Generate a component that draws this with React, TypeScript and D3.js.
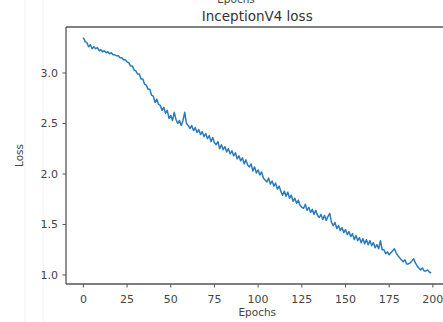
import React from "react";
import * as d3 from "d3";

const epochs: number[] = Array.from({ length: 200 }, (_, i) => i);
const loss: number[] = [
  3.35, 3.31, 3.30, 3.26, 3.28, 3.24, 3.26, 3.24, 3.25, 3.22,
  3.23, 3.21, 3.22, 3.20, 3.21, 3.19, 3.20, 3.18, 3.18, 3.17,
  3.17, 3.15, 3.15, 3.13, 3.13, 3.11, 3.10, 3.07, 3.07, 3.03,
  3.02, 2.99, 2.99, 2.94, 2.94, 2.89, 2.88, 2.84, 2.84, 2.78,
  2.77, 2.71, 2.74, 2.69, 2.68, 2.63, 2.66, 2.60, 2.63, 2.55,
  2.58, 2.53, 2.61, 2.54, 2.50, 2.53, 2.48, 2.53, 2.61, 2.50,
  2.48, 2.45, 2.48, 2.43, 2.46, 2.41, 2.44, 2.39, 2.42, 2.37,
  2.40, 2.35, 2.38, 2.32, 2.36, 2.31, 2.29, 2.32, 2.25, 2.29,
  2.24, 2.27, 2.22, 2.25, 2.20, 2.23, 2.18, 2.21, 2.15, 2.18,
  2.13, 2.16, 2.10, 2.14, 2.09, 2.07, 2.10, 2.03, 2.07, 2.01,
  2.04, 1.99, 2.02, 1.96, 1.94, 1.92, 1.96, 1.90, 1.93, 1.88,
  1.91, 1.85, 1.88, 1.83, 1.79, 1.83, 1.78, 1.82, 1.76, 1.79,
  1.73, 1.76, 1.71, 1.74, 1.69, 1.67, 1.66, 1.70, 1.64, 1.67,
  1.62, 1.65, 1.60, 1.64, 1.59, 1.57, 1.60, 1.55, 1.59, 1.54,
  1.58, 1.61, 1.52, 1.49, 1.52, 1.46, 1.49, 1.44, 1.47, 1.42,
  1.45, 1.40, 1.43, 1.38, 1.41, 1.35, 1.39, 1.34, 1.37, 1.32,
  1.36, 1.31, 1.35, 1.30, 1.34, 1.29, 1.32, 1.27, 1.30, 1.26,
  1.34, 1.25, 1.25, 1.21, 1.23, 1.20, 1.22, 1.24, 1.26, 1.22,
  1.19, 1.17, 1.15, 1.13, 1.15, 1.11, 1.11, 1.12, 1.14, 1.16,
  1.12, 1.09, 1.07, 1.05, 1.07, 1.04, 1.04, 1.05, 1.03, 1.02,
];
const xTicks: number[] = [0, 25, 50, 75, 100, 125, 150, 175, 200];
const yTicks: number[] = [1.0, 1.5, 2.0, 2.5, 3.0];
const title = "InceptionV4 loss";
const xLabel = "Epochs";
const yLabel = "Loss";

export default function App() {
  const W = 443, H = 322;
  const left = 66, right = 448.5, top = 27, bottom = 284;
  const x = d3.scaleLinear().domain([-9.95, 208.95]).range([left, right]);
  const y = d3.scaleLinear().domain([0.911, 3.455]).range([bottom, top]);
  const line = d3.line<number>().x((_, i) => x(epochs[i])).y((d) => y(d));
  const font = "DejaVu Sans, sans-serif";
  const axisColor = "#555";
  const textColor = "#444";
  return (
    <svg width={W} height={H} style={{ position: "absolute", left: 0, top: 0, background: "#fff" }}>
      <line x1={25} x2={25} y1={0} y2={H} stroke="#f2f2f2" strokeWidth={1} />
      <line x1={43} x2={43} y1={0} y2={H} stroke="#f2f2f2" strokeWidth={1} />
      <text x={236} y={3} textAnchor="middle" fontFamily={font} fontSize={10.5} fill={textColor}>{xLabel}</text>
      <text x={(left + right) / 2} y={21} textAnchor="middle" fontFamily={font} fontSize={13.5} fill="#333">{title}</text>
      <path d={line(loss) || ""} fill="none" stroke="#2b7bba" strokeWidth={1.5} strokeLinejoin="round" />
      <line x1={left} x2={left} y1={top} y2={bottom} stroke={axisColor} strokeWidth={1.3} />
      <line x1={left} x2={W} y1={top} y2={top} stroke={axisColor} strokeWidth={1.3} />
      <line x1={left} x2={W} y1={bottom} y2={bottom} stroke={axisColor} strokeWidth={1.3} />
      {xTicks.map((t) => (
        <g key={"x" + t}>
          <line x1={x(t)} x2={x(t)} y1={bottom} y2={bottom + 3.5} stroke={axisColor} strokeWidth={1} />
          <text x={x(t)} y={bottom + 19} textAnchor="middle" fontFamily={font} fontSize={11} fill={textColor}>{t}</text>
        </g>
      ))}
      {yTicks.map((t) => (
        <g key={"y" + t}>
          <line x1={left - 3.5} x2={left} y1={y(t)} y2={y(t)} stroke={axisColor} strokeWidth={1} />
          <text x={left - 8} y={y(t) + 4} textAnchor="end" fontFamily={font} fontSize={11} fill={textColor}>{t.toFixed(1)}</text>
        </g>
      ))}
      <text x={(left + right) / 2} y={316} textAnchor="middle" fontFamily={font} fontSize={10.5} fill={textColor}>{xLabel}</text>
      <text transform={`translate(23,${(top + bottom) / 2}) rotate(-90)`} textAnchor="middle" fontFamily={font} fontSize={10.5} fill={textColor}>{yLabel}</text>
    </svg>
  );
}
